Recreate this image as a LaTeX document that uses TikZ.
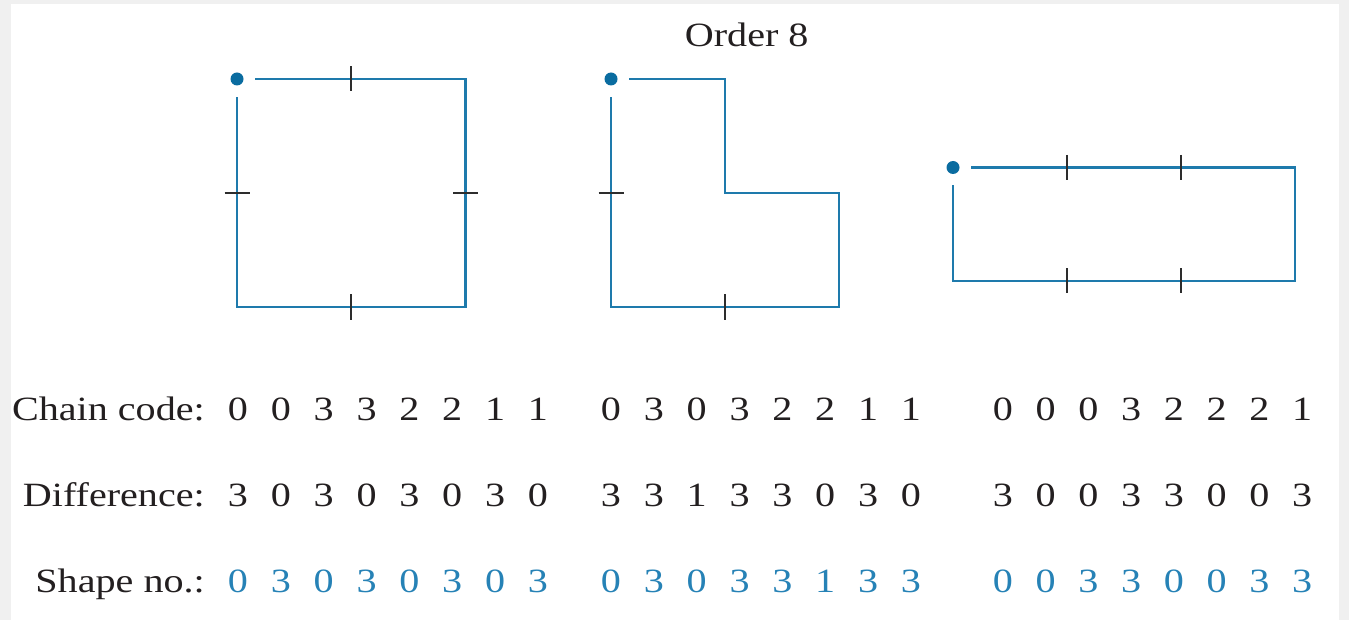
\documentclass[tikz,border=0pt]{standalone}
\usepackage{fontspec}
\setmainfont[FakeStretch=1.18]{Liberation Serif}
\definecolor{contour}{RGB}{30,122,172}
\definecolor{startblue}{RGB}{10,108,160}
\definecolor{tickgray}{RGB}{45,45,45}
\definecolor{inkblack}{RGB}{35,31,32}
\definecolor{shapeblue}{RGB}{38,130,182}
\definecolor{frame}{RGB}{240,240,240}
\begin{document}
\begin{tikzpicture}[x=1pt,y=-1pt,
  edge/.style={draw=contour,line width=2.6pt},
  tickmark/.style={draw=tickgray,line width=2.2pt},
  startdot/.style={circle,fill=startblue,inner sep=0pt,minimum size=13pt},
  txt/.style={inner sep=0pt,text=inkblack,font=\fontsize{34}{40}\selectfont},
  lbl/.style={txt,anchor=base east},
  dig/.style={txt,anchor=base},
  sdig/.style={dig,text=shapeblue}]
% page and frame
\fill[frame] (0,0) rectangle (1349,620);
\fill[white] (11,4) rectangle (1339,620);
\useasboundingbox (0,0) rectangle (1349,620);

\node[txt,anchor=base] (title) at (746.7,47) {Order 8};

% ---- square boundary
\node[startdot] (s1) at (237,79) {};
\draw[edge] (255,79) -- (465.5,79) -- (465.5,307) -- (237,307) -- (237,97);
\draw[tickmark] (351,66.5) -- (351,91.5);
\draw[tickmark] (351,294.5) -- (351,319.5);
\draw[tickmark] (224.5,193) -- (249.5,193);
\draw[tickmark] (453,193) -- (478,193);

% ---- L-shaped boundary
\node[startdot] (s2) at (611,79) {};
\draw[edge] (629,79) -- (725,79) -- (725,193) -- (839,193) -- (839,307) -- (611,307) -- (611,97);
\draw[tickmark] (598.5,193) -- (623.5,193);
\draw[tickmark] (725,294.5) -- (725,319.5);

% ---- rectangle boundary
\node[startdot] (s3) at (953,167.5) {};
\draw[edge] (971,167.5) -- (1295,167.5) -- (1295,281) -- (953,281) -- (953,185.5);
\foreach \tx in {1067,1181}{
  \draw[tickmark] (\tx,155) -- (\tx,180);
  \draw[tickmark] (\tx,268.5) -- (\tx,293.5);
}

% ---- row labels
\node[lbl] (lcc) at (205,420) {Chain code:};
\node[lbl] (ldf) at (205,506) {Difference:};
\node[lbl] (lsn) at (205,592) {Shape no.:};

% ---- chain codes
\foreach \d [count=\i] in {0,0,3,3,2,2,1,1}
  \node[dig] (ca-\i) at ({238+42.85*(\i-1)},420) {\d};
\foreach \d [count=\i] in {0,3,0,3,2,2,1,1}
  \node[dig] (cb-\i) at ({611+42.85*(\i-1)},420) {\d};
\foreach \d [count=\i] in {0,0,0,3,2,2,2,1}
  \node[dig] (cc-\i) at ({1003+42.75*(\i-1)},420) {\d};

% ---- first differences
\foreach \d [count=\i] in {3,0,3,0,3,0,3,0}
  \node[dig] (da-\i) at ({238+42.85*(\i-1)},506) {\d};
\foreach \d [count=\i] in {3,3,1,3,3,0,3,0}
  \node[dig] (db-\i) at ({611+42.85*(\i-1)},506) {\d};
\foreach \d [count=\i] in {3,0,0,3,3,0,0,3}
  \node[dig] (dc-\i) at ({1003+42.75*(\i-1)},506) {\d};

% ---- shape numbers
\foreach \d [count=\i] in {0,3,0,3,0,3,0,3}
  \node[sdig] (na-\i) at ({238+42.85*(\i-1)},592) {\d};
\foreach \d [count=\i] in {0,3,0,3,3,1,3,3}
  \node[sdig] (nb-\i) at ({611+42.85*(\i-1)},592) {\d};
\foreach \d [count=\i] in {0,0,3,3,0,0,3,3}
  \node[sdig] (nc-\i) at ({1003+42.75*(\i-1)},592) {\d};
\end{tikzpicture}
\end{document}
